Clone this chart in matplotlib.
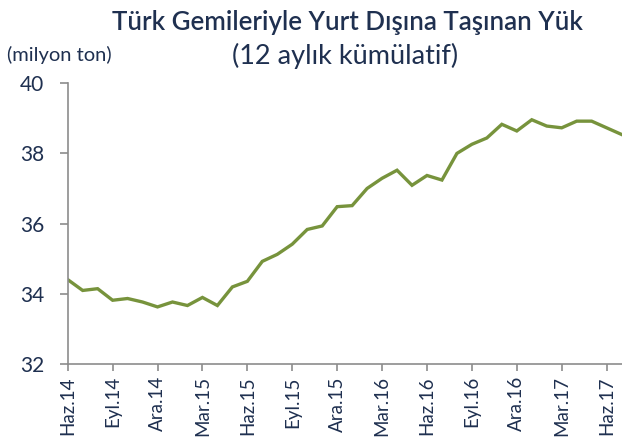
import matplotlib
matplotlib.use("Agg")
import matplotlib.pyplot as plt

plt.rcParams['font.family'] = ['Lato', 'DejaVu Sans']

# 12 aylık kümülatif, milyon ton (Haz.14 - Tem.17)
months = ['Haz.14', 'Tem.14', 'Ağu.14', 'Eyl.14', 'Eki.14', 'Kas.14', 'Ara.14',
          'Oca.15', 'Şub.15', 'Mar.15', 'Nis.15', 'May.15', 'Haz.15', 'Tem.15',
          'Ağu.15', 'Eyl.15', 'Eki.15', 'Kas.15', 'Ara.15', 'Oca.16', 'Şub.16',
          'Mar.16', 'Nis.16', 'May.16', 'Haz.16', 'Tem.16', 'Ağu.16', 'Eyl.16',
          'Eki.16', 'Kas.16', 'Ara.16', 'Oca.17', 'Şub.17', 'Mar.17', 'Nis.17',
          'May.17', 'Haz.17', 'Tem.17']
values = [34.40, 34.09, 34.14, 33.81, 33.86, 33.76, 33.62, 33.76, 33.66, 33.89,
          33.66, 34.19, 34.35, 34.92, 35.12, 35.41, 35.83, 35.93, 36.48, 36.51,
          37.00, 37.29, 37.52, 37.09, 37.37, 37.24, 38.00, 38.26, 38.44, 38.83,
          38.64, 38.96, 38.78, 38.73, 38.92, 38.92, 38.73, 38.54]

navy = '#1f3050'
green = '#77933c'
grey = '#8c8c8c'

fig = plt.figure(figsize=(6.22, 4.45), dpi=100)
ax = fig.add_axes([67.7 / 622, 81.3 / 445, 554.3 / 622, 280.4 / 445])

x = list(range(len(values)))
ax.plot(x, values, color=green, linewidth=2.4, solid_joinstyle='miter')

ax.set_ylim(32, 40)
ax.set_yticks([32, 34, 36, 38, 40])
ax.set_xlim(0, 554.3 / 14.97)
ax.set_xticks(x[::3])
ax.set_xticklabels(months[::3], rotation=90)

for s in ['top', 'right']:
    ax.spines[s].set_visible(False)
for s in ['left', 'bottom']:
    ax.spines[s].set_color(grey)
    ax.spines[s].set_linewidth(1.2)
ax.tick_params(axis='y', length=5.8, width=1.2, color=grey, labelcolor=navy,
               labelsize=15, pad=11)
ax.tick_params(axis='x', length=5, width=1.2, color=grey, labelcolor=navy,
               labelsize=13.5, pad=4)

fig.text(0.559, 0.950, 'Türk Gemileriyle Yurt Dışına Taşınan Yük', ha='center',
         va='center', fontsize=18.6, color=navy, fontweight='semibold')
fig.text(0.555, 0.874, '(12 aylık kümülatif)', ha='center', va='center',
         fontsize=19.5, color=navy)
fig.text(0.012, 0.876, '(milyon ton)', ha='left', va='center', fontsize=14.5,
         color=navy)

fig.savefig('out.png', dpi=100)
